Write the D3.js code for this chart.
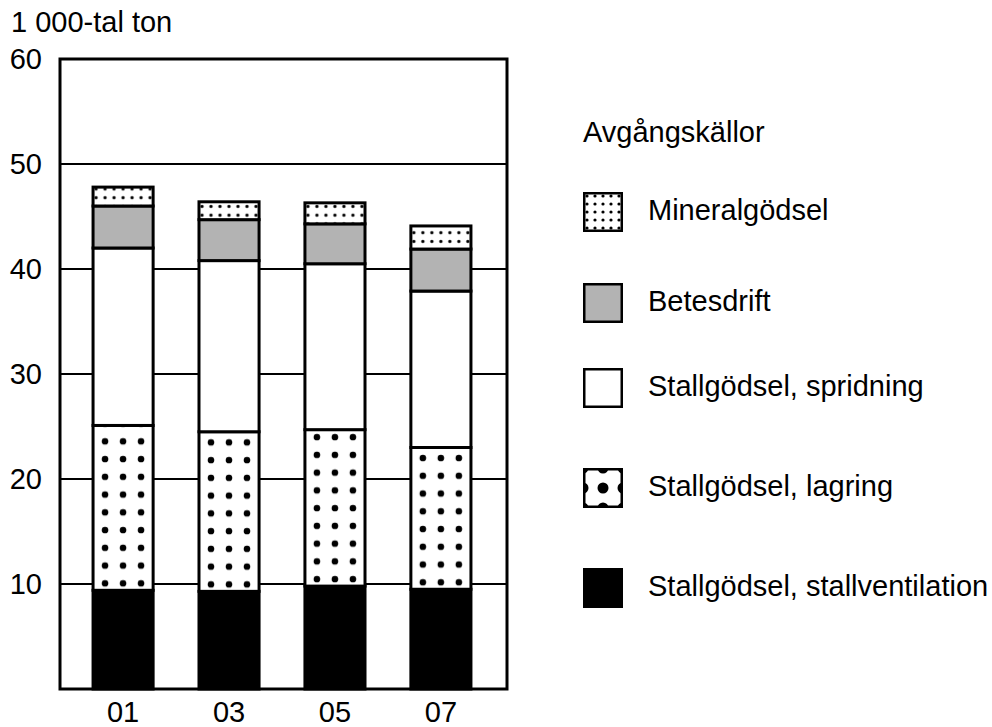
<!DOCTYPE html>
<html>
<head>
<meta charset="utf-8">
<script src="https://cdn.jsdelivr.net/npm/d3@7"></script>
<style>
  html, body { margin: 0; padding: 0; background: #fff; }
  svg { display: block; font-family: "Liberation Sans", Arial, sans-serif; }
</style>
</head>
<body>
<svg id="chart" width="992" height="727"></svg>
<script>
// ---- data ----
const years = ["01", "03", "05", "07"];
const seriesNames = ["Stallgödsel, stallventilation", "Stallgödsel, lagring", "Stallgödsel, spridning", "Betesdrift", "Mineralgödsel"];
const stallventilation = [9.4, 9.3, 9.8, 9.5];
const lagring = [15.7, 15.2, 14.9, 13.5];
const spridning = [16.9, 16.3, 15.8, 14.9];
const betesdrift = [4.0, 3.9, 3.8, 4.0];
const mineralgodsel = [1.8, 1.7, 2.0, 2.2];
const yTicks = [10, 20, 30, 40, 50, 60];
const yUnit = "1 000-tal ton";
const legendTitle = "Avgångskällor";

// ---- layout ----
const svg = d3.select("#chart");
const plot = { left: 60, right: 507, top: 59, bottom: 689 };
const FS = 29;

const x = d3.scaleBand().domain(years).range([plot.left, 504]).paddingInner(0.433).paddingOuter(0.312);
const y = d3.scaleLinear().domain([0, 60]).range([plot.bottom, plot.top]);

const rows = years.map((yr, i) => ({
  year: yr,
  [seriesNames[0]]: stallventilation[i],
  [seriesNames[1]]: lagring[i],
  [seriesNames[2]]: spridning[i],
  [seriesNames[3]]: betesdrift[i],
  [seriesNames[4]]: mineralgodsel[i]
}));
const stacked = d3.stack().keys(seriesNames)(rows);

const defs = svg.append("defs");

// gridlines
svg.append("g").selectAll("line").data(yTicks.filter(t => t < 60)).join("line")
  .attr("x1", plot.left).attr("x2", plot.right)
  .attr("y1", d => y(d)).attr("y2", d => y(d))
  .attr("stroke", "#000").attr("stroke-width", 2);

// patterns per bar
function bigDotPattern(id, px, bottom) {
  const p = defs.append("pattern").attr("id", id).attr("patternUnits", "userSpaceOnUse")
    .attr("width", 18).attr("height", 17.75)
    .attr("x", px + 3).attr("y", bottom - 7 - 8.875);
  p.append("rect").attr("width", 18).attr("height", 17.75).attr("fill", "#fff");
  p.append("circle").attr("cx", 9).attr("cy", 8.875).attr("r", 3.3).attr("fill", "#000");
}
function smallDotPattern(id, px) {
  const p = defs.append("pattern").attr("id", id).attr("patternUnits", "userSpaceOnUse")
    .attr("width", 9).attr("height", 8.75)
    .attr("x", px - 1.5).attr("y", 197.7 - 4.375);
  p.append("rect").attr("width", 9).attr("height", 8.75).attr("fill", "#fff");
  p.append("circle").attr("cx", 4.5).attr("cy", 4.375).attr("r", 1.6).attr("fill", "#000");
}

const fills = [
  () => "#000",
  (d, i) => `url(#lag${i})`,
  () => "#fff",
  () => "#b3b3b3",
  (d, i) => `url(#min${i})`
];

stacked[1].forEach((d, i) => bigDotPattern("lag" + i, x(years[i]), y(d[0])));
stacked[4].forEach((d, i) => smallDotPattern("min" + i, x(years[i])));

const barG = svg.append("g");
stacked.forEach((s, si) => {
  barG.append("g").selectAll("rect").data(s).join("rect")
    .attr("x", (d, i) => x(years[i]))
    .attr("width", x.bandwidth())
    .attr("y", d => y(d[1]))
    .attr("height", d => y(d[0]) - y(d[1]))
    .attr("fill", (d, i) => fills[si](d, i))
    .attr("stroke", "#000").attr("stroke-width", 3);
});

// frame
svg.append("rect").attr("x", plot.left).attr("y", plot.top)
  .attr("width", plot.right - plot.left).attr("height", plot.bottom - plot.top)
  .attr("fill", "none").attr("stroke", "#000").attr("stroke-width", 3);

// y tick labels
svg.append("g").selectAll("text").data(yTicks).join("text")
  .attr("x", 42).attr("y", d => y(d) + 10)
  .attr("text-anchor", "end").attr("font-size", FS).text(d => d);

svg.append("text").attr("x", 11).attr("y", 32).attr("font-size", FS).text(yUnit);

// x labels
svg.append("g").selectAll("text").data(years).join("text")
  .attr("x", d => x(d) + x.bandwidth() / 2).attr("y", 722)
  .attr("text-anchor", "middle").attr("font-size", FS).text(d => d);

// legend
svg.append("text").attr("x", 583).attr("y", 142).attr("font-size", FS).text(legendTitle);

const legendOrder = [4, 3, 2, 1, 0];
const legendTops = [192, 283, 368, 468, 568];

// legend patterns (coordinates relative to each legend group)
{
  const p = defs.append("pattern").attr("id", "legMin").attr("patternUnits", "userSpaceOnUse")
    .attr("width", 8).attr("height", 8).attr("x", 0).attr("y", 0);
  p.append("rect").attr("width", 8).attr("height", 8).attr("fill", "#fff");
  p.append("circle").attr("cx", 4).attr("cy", 4).attr("r", 1.6).attr("fill", "#000");
  const q = defs.append("pattern").attr("id", "legLag").attr("patternUnits", "userSpaceOnUse")
    .attr("width", 20).attr("height", 20).attr("x", -10).attr("y", -10);
  q.append("rect").attr("width", 20).attr("height", 20).attr("fill", "#fff");
  q.append("circle").attr("cx", 10).attr("cy", 10).attr("r", 5.5).attr("fill", "#000");
}
const legendFills = { 4: "url(#legMin)", 3: "#b3b3b3", 2: "#fff", 1: "url(#legLag)", 0: "#000" };

const lg = svg.append("g").selectAll("g").data(legendOrder).join("g")
  .attr("transform", (d, i) => `translate(583,${legendTops[i]})`);
lg.append("rect").attr("x", 1.25).attr("y", 1.25).attr("width", 37.5).attr("height", 37.5)
  .attr("fill", d => legendFills[d]).attr("stroke", "#000").attr("stroke-width", 2.5);
lg.append("text").attr("x", 65).attr("y", 28).attr("font-size", FS).text(d => seriesNames[d]);
</script>
</body>
</html>
